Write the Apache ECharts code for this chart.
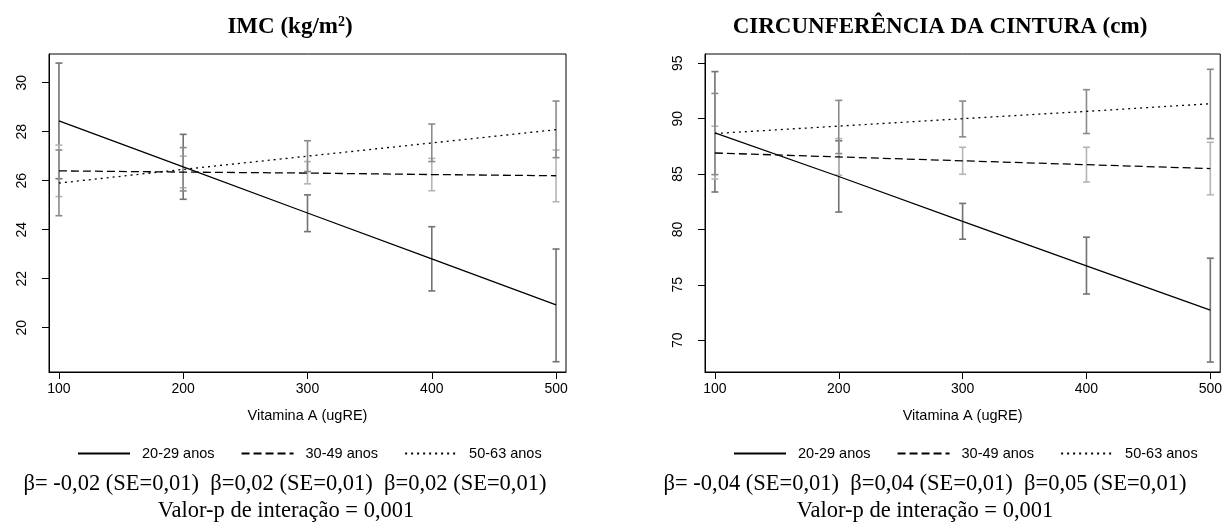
<!DOCTYPE html>
<html>
<head>
<meta charset="utf-8">
<script src="https://cdn.jsdelivr.net/npm/echarts@6/dist/echarts.min.js"></script>
<style>
html,body{margin:0;padding:0;background:#fff;}
#chart{width:1225px;height:524px;}
</style>
</head>
<body>
<div id="chart"></div>
<script>
// ---- data ----
const vitA = [100, 200, 300, 400, 500];
const xTicks = [100, 200, 300, 400, 500];
const groups = ['20-29 anos', '30-49 anos', '50-63 anos'];

// IMC (kg/m2)
const imcTicks = [20, 22, 24, 26, 28, 30];
const imc2029 = [28.44, 26.56, 24.68, 22.81, 20.93];
const imc3049 = [26.40, 26.35, 26.31, 26.25, 26.20];
const imc5063 = [25.90, 26.46, 27.00, 27.54, 28.08];
const imc2029Lo = [26.08, 25.24, 23.92, 21.50, 18.61];
const imc2029Hi = [30.80, 27.89, 25.42, 24.12, 23.21];
const imc3049Lo = [25.35, 25.71, 25.87, 25.59, 25.14];
const imc3049Hi = [27.45, 27.00, 26.78, 26.91, 27.25];
const imc5063Lo = [24.57, 25.58, 26.37, 26.78, 26.94];
const imc5063Hi = [27.25, 27.35, 27.63, 28.31, 29.25];

// Circunferência da cintura (cm)
const ccTicks = [70, 75, 80, 85, 90, 95];
const cc2029 = [88.72, 84.78, 80.72, 76.72, 72.72];
const cc3049 = [86.90, 86.55, 86.20, 85.85, 85.50];
const cc5063 = [88.66, 89.33, 90.00, 90.66, 91.35];
const cc2029Lo = [83.38, 81.57, 79.12, 74.17, 68.03];
const cc2029Hi = [94.25, 88.00, 82.35, 79.30, 77.40];
const cc3049Lo = [84.55, 84.90, 84.98, 84.28, 83.13];
const cc3049Hi = [89.32, 88.20, 87.42, 87.42, 87.87];
const cc5063Lo = [84.95, 86.85, 88.36, 88.66, 88.20];
const cc5063Hi = [92.28, 91.65, 91.59, 92.62, 94.46];

const titleLeft = 'IMC (kg/m{s|2})';
const titleRight = 'CIRCUNFERÊNCIA DA CINTURA (cm)';
const betaLeft = 'β= -0,02 (SE=0,01)  β=0,02 (SE=0,01)  β=0,02 (SE=0,01)';
const betaRight = 'β= -0,04 (SE=0,01)  β=0,04 (SE=0,01)  β=0,05 (SE=0,01)';
const pText = 'Valor-p de interação = 0,001';

// ---- styles ----
const SANS = '"Liberation Sans", Arial, sans-serif';
const SERIF = '"Liberation Serif", "Times New Roman", serif';
const lineTypes = ['solid', [8, 4], [2, 4]];
const barColors = ['#727272', '#b4b4b4', '#8a8a8a'];

const chart = echarts.init(document.getElementById('chart'), null, {renderer: 'canvas'});

function xAxisDef(gi) {
  return {
    gridIndex: gi, type: 'value', min: 92, max: 508,
    name: 'Vitamina A (ugRE)', nameLocation: 'middle', nameGap: 36,
    nameTextStyle: {fontFamily: SANS, fontSize: 14.5, color: '#000'},
    axisLine: {show: true, onZero: false, lineStyle: {color: '#000', width: 1}},
    axisTick: {show: true, length: 7, customValues: xTicks, lineStyle: {color: '#000'}},
    axisLabel: {customValues: xTicks, margin: 10, fontFamily: SANS, fontSize: 14, color: '#000'},
    splitLine: {show: false}
  };
}
function yAxisDef(gi, min, max, ticks) {
  return {
    gridIndex: gi, type: 'value', min: min, max: max,
    axisLine: {show: true, onZero: false, lineStyle: {color: '#000', width: 1}},
    axisTick: {show: true, length: 7, customValues: ticks, lineStyle: {color: '#000'}},
    axisLabel: {customValues: ticks, rotate: 90, margin: 20, fontFamily: SANS, fontSize: 14, color: '#000'},
    splitLine: {show: false}
  };
}

function lineSeries(gi, name, vals, k) {
  return {
    type: 'line', name: name, xAxisIndex: gi, yAxisIndex: gi,
    data: vitA.map((x, i) => [x, vals[i]]),
    symbol: 'none', showSymbol: false, silent: true, z: 3,
    lineStyle: {color: '#000', width: 1.3, type: lineTypes[k]},
    itemStyle: {color: '#000'}
  };
}
function errSeries(gi, lo, hi, k) {
  return {
    type: 'custom', name: 'eb' + gi + k, xAxisIndex: gi, yAxisIndex: gi, z: 2, silent: true,
    data: vitA.map((x, i) => [x, lo[i], hi[i]]),
    renderItem: function (params, api) {
      const p1 = api.coord([api.value(0), api.value(1)]);
      const p2 = api.coord([api.value(0), api.value(2)]);
      const w = 3.5;
      const st = {stroke: barColors[k], lineWidth: 1.6};
      return {
        type: 'group',
        children: [
          {type: 'line', shape: {x1: p1[0], y1: p1[1], x2: p2[0], y2: p2[1]}, style: st},
          {type: 'line', shape: {x1: p1[0] - w, y1: p1[1], x2: p1[0] + w, y2: p1[1]}, style: st},
          {type: 'line', shape: {x1: p2[0] - w, y1: p2[1], x2: p2[0] + w, y2: p2[1]}, style: st}
        ]
      };
    }
  };
}

function legendDef(left) {
  return {
    data: groups, left: left, top: 441, orient: 'horizontal',
    itemWidth: 52, itemHeight: 14, itemGap: 26, selectedMode: false,
    itemStyle: {opacity: 0, borderWidth: 0},
    textStyle: {fontFamily: SANS, fontSize: 14.5, color: '#000', padding: [0, 0, 0, 7]}
  };
}

function txt(x, y, text, font, rich) {
  const s = {text: text, font: font, fill: '#000', align: 'center', verticalAlign: 'middle'};
  if (rich) s.rich = rich;
  return {type: 'text', x: x, y: y, style: s, silent: true};
}

const option = {
  backgroundColor: '#fff',
  animation: false,
  grid: [
    {left: 49, top: 54, width: 517, height: 318, show: true, borderColor: '#000', borderWidth: 1},
    {left: 705, top: 54, width: 516, height: 318, show: true, borderColor: '#000', borderWidth: 1}
  ],
  xAxis: [xAxisDef(0), xAxisDef(1)],
  yAxis: [yAxisDef(0, 18.19, 31.17, imcTicks), yAxisDef(1, 67.13, 95.84, ccTicks)],
  legend: [legendDef(72), legendDef(728)],
  series: [
    errSeries(0, imc2029Lo, imc2029Hi, 0),
    errSeries(0, imc3049Lo, imc3049Hi, 1),
    errSeries(0, imc5063Lo, imc5063Hi, 2),
    lineSeries(0, groups[0], imc2029, 0),
    lineSeries(0, groups[1], imc3049, 1),
    lineSeries(0, groups[2], imc5063, 2),
    errSeries(1, cc2029Lo, cc2029Hi, 0),
    errSeries(1, cc3049Lo, cc3049Hi, 1),
    errSeries(1, cc5063Lo, cc5063Hi, 2),
    lineSeries(1, groups[0], cc2029, 0),
    lineSeries(1, groups[1], cc3049, 1),
    lineSeries(1, groups[2], cc5063, 2)
  ],
  graphic: [
    txt(290, 27, titleLeft, 'bold 23px ' + SERIF,
        {s: {fontFamily: SERIF, fontWeight: 'bold', fontSize: 14, padding: [0, 0, 10, 0]}}),
    txt(940, 27, titleRight, 'bold 23px ' + SERIF),
    txt(285, 484, betaLeft, '22.5px ' + SERIF),
    txt(286, 511, pText, '22.5px ' + SERIF),
    txt(925, 484, betaRight, '22.5px ' + SERIF),
    txt(925, 511, pText, '22.5px ' + SERIF)
  ]
};
chart.setOption(option);
</script>
</body>
</html>
